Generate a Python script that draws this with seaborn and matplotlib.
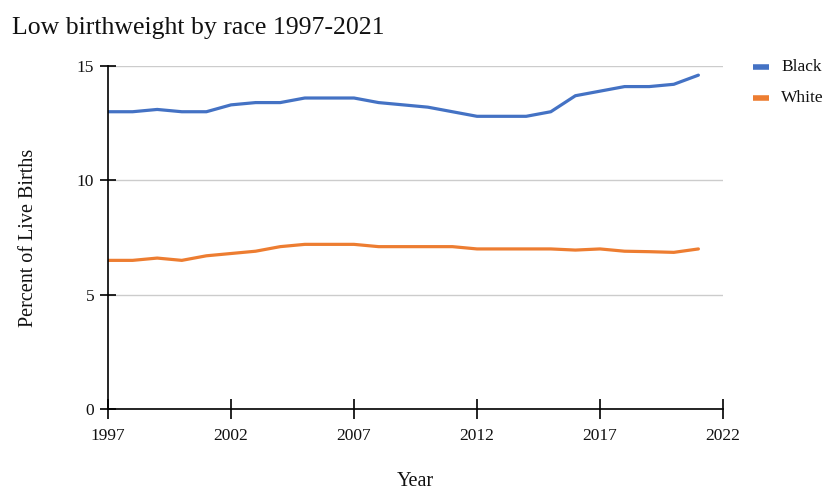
import matplotlib
matplotlib.use("Agg")
import matplotlib.pyplot as plt
import seaborn as sns
import pandas as pd

years = list(range(1997, 2022))
black = [13.0, 13.0, 13.1, 13.0, 13.0, 13.3, 13.4, 13.4, 13.6, 13.6, 13.6, 13.4, 13.3,
         13.2, 13.0, 12.8, 12.8, 12.8, 13.0, 13.7, 13.9, 14.1, 14.1, 14.2, 14.6]
white = [6.5, 6.5, 6.6, 6.5, 6.7, 6.8, 6.9, 7.1, 7.2, 7.2, 7.2, 7.1, 7.1,
         7.1, 7.1, 7.0, 7.0, 7.0, 7.0, 6.95, 7.0, 6.9, 6.88, 6.85, 7.0]
series_names = ["Black", "White"]
series_colors = ["#4472C4", "#ED7D31"]
x_ticks = [1997, 2002, 2007, 2012, 2017, 2022]
y_ticks = [0, 5, 10, 15]

df = pd.DataFrame({
    "Year": years * 2,
    "Percent": black + white,
    "Race": [series_names[0]] * len(years) + [series_names[1]] * len(years),
})

sns.set_theme(style="white")
plt.rcParams["font.family"] = ["Liberation Serif", "DejaVu Serif"]

fig = plt.figure(figsize=(8.28, 4.93), dpi=100)
ax = fig.add_axes([108 / 828, 1 - 409 / 493, (723 - 108) / 828, (409 - 66) / 493])

sns.lineplot(data=df, x="Year", y="Percent", hue="Race",
             palette=dict(zip(series_names, series_colors)),
             linewidth=2.3, ax=ax, legend=False)

ax.set_xlim(1997, 2022)
ax.set_ylim(0, 15)
ax.set_xticks(x_ticks)
ax.set_yticks(y_ticks)
ax.set_xticklabels([str(t) for t in x_ticks], fontsize=12.5, color="#111111")
ax.set_yticklabels([str(t) for t in y_ticks], fontsize=12.5, color="#111111")
ax.yaxis.grid(True, color="#cccccc", linewidth=1)
ax.set_axisbelow(True)
for s in ["top", "right"]:
    ax.spines[s].set_visible(False)
for s in ["left", "bottom"]:
    ax.spines[s].set_color("black")
    ax.spines[s].set_linewidth(1.2)
ax.tick_params(axis="x", bottom=True, direction="inout", length=14, width=1.2,
               color="black", pad=6.5)
ax.tick_params(axis="y", left=True, direction="inout", length=12, width=1.2,
               color="black", pad=4)

ax.set_xlabel("Year", fontsize=14.5, labelpad=20, color="#111111")
ax.set_ylabel("Percent of Live Births", fontsize=14.5, labelpad=28, color="#111111")

fig.text(12 / 828, 1 - 28 / 493, "Low birthweight by race 1997-2021", fontsize=18.5,
         va="center", ha="left", color="#111111")

# legend at the right edge of the figure
for i, (name, color) in enumerate(zip(series_names, series_colors)):
    yy = 1 - (67 + 31 * i) / 493
    fig.add_artist(plt.Line2D([753 / 828, 769 / 828], [yy, yy], color=color,
                              linewidth=4, solid_capstyle="butt"))
    fig.text(781 / 828, yy, name, fontsize=12.5, va="center", ha="left", color="#111111")

fig.savefig("out.png", dpi=100)
